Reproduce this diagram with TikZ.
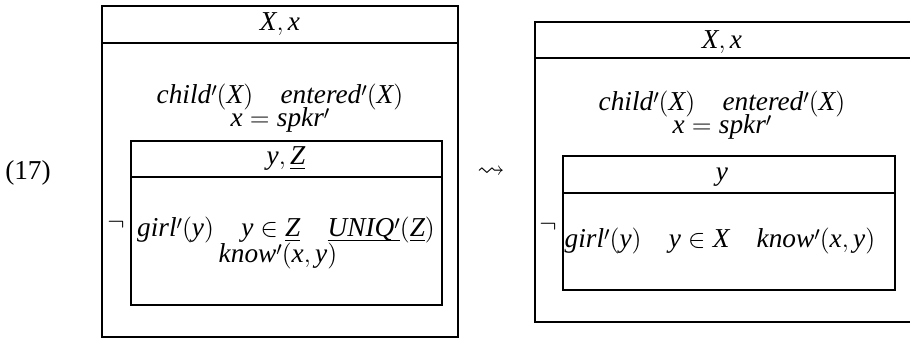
\documentclass[tikz,border=0pt]{standalone}
\usepackage{amssymb}
\usepackage{fontspec}
\setmainfont{Liberation Serif}
% discourse referents and predicates in italic text font
\newcommand\vr[1]{\textit{#1}}
% prime set level with the ascenders
\newcommand\pr{\mathord{\raisebox{3.6pt}{$\scriptstyle\prime$}}}
% underline set just below the baseline, ignoring descenders
\newcommand\ul[1]{\underline{\smash{#1}}}
\begin{document}
\begin{tikzpicture}[x=0.4615pt,y=-0.4615pt,
  txt/.style={font=\fontsize{12.6}{15}\selectfont, inner sep=0pt, anchor=base},
  frame/.style={line width=1.2pt},
  rule/.style={line width=0.9pt}]
\useasboundingbox (0,0) rectangle (910,338);

% example number and transition arrow
\node[txt] (num) at (28,180) {(17)};
\node[txt] (arr) at (491,178) {$\rightsquigarrow$};

% ---- left DRS ----
\draw[frame] (102,6) rectangle (458,337);
\draw[rule] (102,43) -- (458,43);
\node[txt] (lhead) at (280,31) {$\vr{X},\vr{x}$};
\node[txt] (lcond1) at (280,104) {$\vr{child}\pr(\vr{X})\quad \vr{entered}\pr(\vr{X})$};
\node[txt] (lcond2) at (280,127) {$\vr{x}=\vr{spkr}\pr$};
\node[txt] (lneg) at (116,231) {$\neg$};
% embedded DRS
\draw[frame] (131,141) rectangle (442,305);
\draw[rule] (131,177) -- (442,177);
\node[txt] (ihead) at (286,165) {$\vr{y},\ul{\vr{Z}}$};
\node[txt] (icond1) at (286,237) {$\vr{girl}\pr(\vr{y})\quad \vr{y}\in\ul{\vr{Z}}\quad \ul{\vr{UNIQ}\pr}(\ul{\vr{Z}})$};
\node[txt] (icond2) at (278,263) {$\vr{know}\pr(\vr{x},\vr{y})$};

% ---- right DRS ----
\draw[frame] (535,22) rectangle (914,322);
\draw[rule] (535,58) -- (914,58);
\node[txt] (rhead) at (722,49) {$\vr{X},\vr{x}$};
\node[txt] (rcond1) at (722,111) {$\vr{child}\pr(\vr{X})\quad \vr{entered}\pr(\vr{X})$};
\node[txt] (rcond2) at (722,134) {$\vr{x}=\vr{spkr}\pr$};
\node[txt] (rneg) at (548,233) {$\neg$};
% embedded DRS
\draw[frame] (563,156) rectangle (895,290);
\draw[rule] (563,193) -- (895,193);
\node[txt] (jhead) at (722,181) {$\vr{y}$};
\node[txt] (jcond) at (720,248) {$\vr{girl}\pr(\vr{y})\quad \vr{y}\in\vr{X}\quad \vr{know}\pr(\vr{x},\vr{y})$};
\end{tikzpicture}
\end{document}
